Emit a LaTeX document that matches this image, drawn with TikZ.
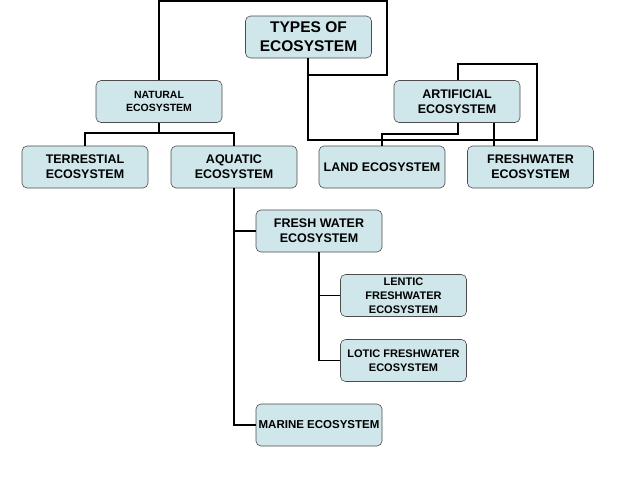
\documentclass[tikz,border=0pt]{standalone}
\usepackage{fontspec}
\setmainfont{Liberation Sans}
\begin{document}
\begin{tikzpicture}[x=1pt,y=-1pt,
  bx/.style={draw=black!70,fill=boxc,rounded corners=5pt,line width=0.6pt,minimum width=126pt,minimum height=42pt,inner sep=0pt,align=center,font=\bfseries\fontsize{12.5}{15}\selectfont},
  ln/.style={line width=1.5pt}]
\definecolor{boxc}{HTML}{CFE7EA}
\useasboundingbox (0,0) rectangle (638,479);
\node[bx,font=\bfseries\fontsize{15.5}{19}\selectfont] (types) at (308.5,37) {TYPES OF\\ECOSYSTEM};
\node[bx,font=\bfseries\fontsize{10.5}{13}\selectfont] (nat) at (159,101.5) {NATURAL\\ECOSYSTEM};
\node[bx] (art) at (457,101.5) {ARTIFICIAL\\ECOSYSTEM};
\node[bx] (ter) at (85,167) {TERRESTIAL\\ECOSYSTEM};
\node[bx] (aqu) at (234,167) {AQUATIC\\ECOSYSTEM};
\node[bx] (land) at (382,167) {LAND ECOSYSTEM};
\node[bx] (fw) at (530.5,167) {FRESHWATER\\ECOSYSTEM};
\node[bx] (fresh) at (319,231) {FRESH WATER\\ECOSYSTEM};
\node[bx,font=\bfseries\fontsize{11}{14}\selectfont] (lentic) at (403.5,295.5) {LENTIC\\FRESHWATER\\ECOSYSTEM};
\node[bx,font=\bfseries\fontsize{11}{14}\selectfont] (lotic) at (403.5,360.5) {LOTIC FRESHWATER\\ECOSYSTEM};
\node[bx,font=\bfseries\fontsize{11.5}{14}\selectfont] (marine) at (319,425) {MARINE ECOSYSTEM};
\coordinate (t1) at (159,1); \coordinate (t2) at (387,1); \coordinate (t3) at (387,75);
\coordinate (t4) at (308,75); \coordinate (t5) at (308,140); \coordinate (t6) at (537,140);
\coordinate (t7) at (537,64); \coordinate (t8) at (458,64);
\draw[ln] (nat.north) -- (t1) -- (t2) -- (t3) -- (t4);
\draw[ln] (types.south -| t4) -- (t5) -- (t6) -- (t7) -- (t8) -- (art.north -| t8);
\draw[ln] (nat.south) -- (159,133) -| (ter.north); \draw[ln] (159,133) -| (aqu.north);
\draw[ln] (art.south -| t8) -- (458,134) -| (land.north);
\draw[ln] (art.south -| 494,0) -- (fw.north -| 494,0);
\draw[ln] (aqu.south) -- (234,425) -- (marine.west); \draw[ln] (234,231) -- (fresh.west);
\draw[ln] (fresh.south) -- (319,360.5) -- (lotic.west); \draw[ln] (319,295.5) -- (lentic.west);
\end{tikzpicture}
\end{document}
